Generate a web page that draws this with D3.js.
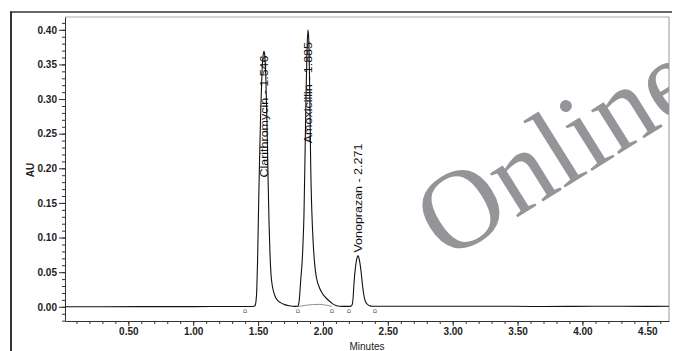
<!DOCTYPE html>
<html><head><meta charset="utf-8">
<script src="https://cdn.jsdelivr.net/npm/d3@7"></script>
<style>body{margin:0;background:#fff}svg{display:block}</style>
</head><body><svg id="c" width="677" height="351"></svg>
<script>
// ---- data (time in minutes, absorbance in AU) ----
const baselineLeft = [[0.012,0.0000],[0.30,0.0001],[0.60,0.0002],[1.00,0.0003],[1.30,0.0004],[1.40,0.0004],[1.46,0.0005]];
const clarithromycinPeak = [[1.476,0.0015],[1.484,0.008],[1.490,0.025],[1.496,0.065],[1.502,0.125],[1.510,0.200],[1.520,0.280],[1.530,0.338],[1.540,0.365],[1.546,0.369],[1.552,0.362],[1.560,0.330],[1.568,0.270],[1.576,0.195],[1.584,0.125],[1.592,0.075],[1.600,0.046],[1.610,0.030],[1.622,0.020],[1.636,0.013],[1.652,0.009],[1.672,0.006],[1.700,0.0035],[1.740,0.0015],[1.790,0.0006]];
const amoxicillinPeak = [[1.805,0.0008],[1.815,0.006],[1.822,0.020],[1.830,0.042],[1.838,0.060],[1.846,0.090],[1.854,0.135],[1.862,0.220],[1.870,0.310],[1.878,0.375],[1.885,0.400],[1.892,0.380],[1.899,0.300],[1.906,0.200],[1.914,0.140],[1.924,0.095],[1.936,0.062],[1.950,0.042],[1.970,0.029],[1.990,0.021],[2.018,0.014],[2.045,0.009],[2.070,0.005],[2.100,0.002],[2.130,0.0009],[2.170,0.0006]];
const vonoprazanPeak = [[2.200,0.0006],[2.215,0.001],[2.225,0.003],[2.232,0.012],[2.238,0.030],[2.244,0.045],[2.250,0.056],[2.258,0.067],[2.265,0.072],[2.271,0.074],[2.278,0.070],[2.286,0.062],[2.293,0.052],[2.300,0.040],[2.307,0.028],[2.315,0.017],[2.325,0.009],[2.340,0.004],[2.360,0.0015],[2.380,0.0008]];
const baselineRight = [[2.42,0.0008],[2.80,0.0008],[3.20,0.0009],[3.70,0.0005],[4.10,0.0008],[4.50,0.0006],[4.667,0.0007]];
const dropBaseline = [[1.807,0.0004],[1.86,0.0020],[1.92,0.0032],[1.97,0.0035],[2.02,0.0025],[2.07,0.0006]];
const integrationMarks = [1.40, 1.807, 2.07, 2.20, 2.40];
const peakNames = ["Clarithromycin", "Amoxicillin", "Vonoprazan"];
const peakTimes = [1.546, 1.885, 2.271];
const peakHeights = [0.369, 0.400, 0.074];
const xMajorTicks = [0.5,1.0,1.5,2.0,2.5,3.0,3.5,4.0,4.5];
const yMajorTicks = [0.00,0.05,0.10,0.15,0.20,0.25,0.30,0.35,0.40];
const xTitle = "Minutes", yTitle = "AU", watermark = "Online";

// ---- layout ----
const L = 65, R = 669, T = 17, B = 321;
const labelEndGap = [4, 12, null]; // px gap between label end and apex when label is pushed below apex
const svg = d3.select("#c");
const x = d3.scaleLinear().domain([0.012, 4.667]).range([L, R]);
const y = d3.scaleLinear().domain([-0.0205, 0.4185]).range([B, T]);
const font = "'Liberation Sans', Arial, sans-serif";

// outer frame
svg.append("line").attr("x1",11).attr("x2",11).attr("y1",11.5).attr("y2",351).attr("stroke","#333").attr("stroke-width",2);
svg.append("line").attr("x1",10).attr("x2",672).attr("y1",12).attr("y2",12).attr("stroke","#333").attr("stroke-width",1.6);

// plot box top/right
svg.append("line").attr("x1",L).attr("x2",R).attr("y1",T).attr("y2",T).attr("stroke","#aaa").attr("stroke-width",1);
svg.append("line").attr("x1",R).attr("x2",R).attr("y1",T).attr("y2",B).attr("stroke","#999").attr("stroke-width",1);

// watermark
svg.append("clipPath").attr("id","wm").append("rect").attr("x",0).attr("y",0).attr("width",R).attr("height",351);
svg.append("g").attr("clip-path","url(#wm)").append("text")
  .attr("transform","translate(446,262) rotate(-32)")
  .attr("font-family","'Liberation Serif', 'Times New Roman', serif")
  .attr("font-size",113).attr("fill","#939598").text(watermark);

// axes
function styleAxis(g){ g.select(".domain").attr("stroke","#333"); g.selectAll(".tick line").attr("stroke","#333");
  g.selectAll("text").attr("font-family",font).attr("font-size",10).attr("font-weight","bold").attr("fill","#222"); }
const yMinor = d3.range(-2, 42).map(d => d/100);
svg.append("g").attr("transform",`translate(${L},0)`)
  .call(d3.axisLeft(y).tickValues(yMinor).tickSize(3).tickFormat("").tickSizeOuter(0))
  .call(g=>{g.select(".domain").remove(); g.selectAll("line").attr("stroke","#333");});
svg.append("g").attr("transform",`translate(${L},0)`)
  .call(d3.axisLeft(y).tickValues(yMajorTicks).tickSize(6).tickPadding(2).tickFormat(d3.format(".2f")).tickSizeOuter(0))
  .call(styleAxis);
const xMinor = d3.range(1, 47).map(d => d/10);
svg.append("g").attr("transform",`translate(0,${B})`)
  .call(d3.axisBottom(x).tickValues(xMinor).tickSize(3).tickFormat("").tickSizeOuter(0))
  .call(g=>{g.select(".domain").remove(); g.selectAll("line").attr("stroke","#333");});
svg.append("g").attr("transform",`translate(0,${B})`)
  .call(d3.axisBottom(x).tickValues(xMajorTicks).tickSize(5).tickPadding(2).tickFormat(d3.format(".2f")).tickSizeOuter(0))
  .call(styleAxis);

// axis titles
svg.append("text").attr("x",(L+R)/2).attr("y",350).attr("text-anchor","middle")
  .attr("font-family",font).attr("font-size",10).attr("fill","#222").text(xTitle);
svg.append("text").attr("transform","translate(34,170) rotate(-90)").attr("text-anchor","middle")
  .attr("font-family",font).attr("font-size",10).attr("font-weight","bold").attr("fill","#222").text(yTitle);

// integration baseline and markers
const line = d3.line().x(d=>x(d[0])).y(d=>y(d[1])).curve(d3.curveMonotoneX);
svg.append("path").datum(dropBaseline).attr("d",line).attr("fill","none").attr("stroke","#777").attr("stroke-width",0.8);
svg.selectAll(".im").data(integrationMarks).enter().append("text")
  .attr("x",d=>x(d)).attr("y",y(0)+6).attr("text-anchor","middle")
  .attr("font-family","'DejaVu Sans', sans-serif").attr("font-size",5).attr("fill","#333").text("Ω");

// trace
const trace = [].concat(baselineLeft, clarithromycinPeak, amoxicillinPeak, vonoprazanPeak, baselineRight);
svg.append("path").datum(trace).attr("d",line).attr("fill","none").attr("stroke","#111").attr("stroke-width",1.1);

// peak labels
const labelScale = 1.25;
peakNames.forEach((name,i)=>{
  const px = x(peakTimes[i]), py = y(peakHeights[i]);
  const t = svg.append("text").attr("font-family",font).attr("font-size",10).attr("fill","#111")
     .attr("dy","0.35em").text(`${name} - ${peakTimes[i].toFixed(3)}`);
  const len = t.node().getComputedTextLength()*labelScale;
  let start;
  if (labelEndGap[i] === null) start = py - 3;
  else start = py + labelEndGap[i] + len;
  t.attr("transform",`translate(${px+0.5},${start}) rotate(-90) scale(${labelScale},1)`);
});
</script></body></html>
